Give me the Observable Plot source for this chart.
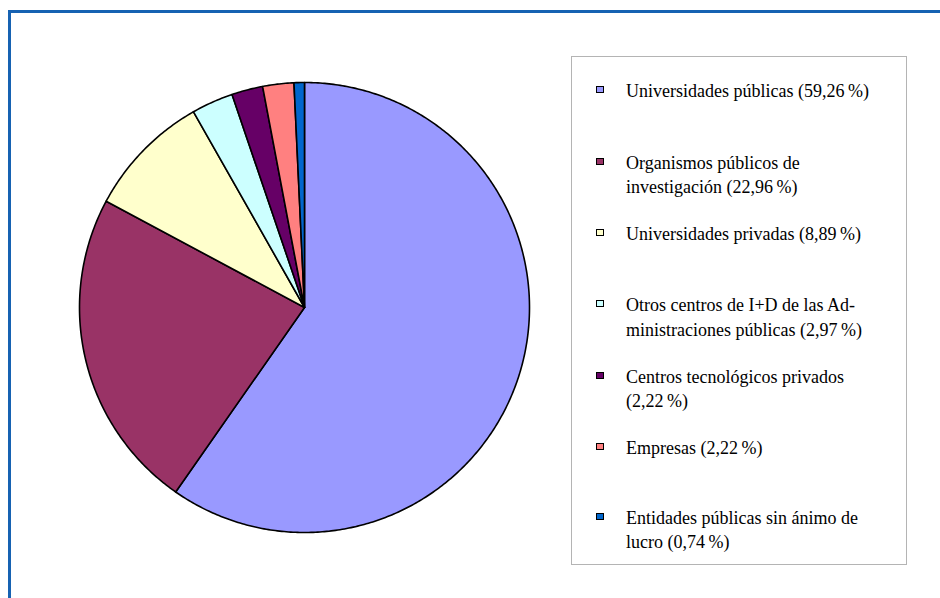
<!DOCTYPE html>
<html><head><meta charset="utf-8">
<script src="https://cdn.jsdelivr.net/npm/d3@7"></script>
<script src="https://cdn.jsdelivr.net/npm/@observablehq/plot@0.6"></script>
<style>
body{margin:0;background:#fff;}
#wrap{position:relative;width:940px;height:598px;overflow:hidden;background:#fff;}
#chart{position:absolute;left:0;top:0;}
#frame{position:absolute;left:8px;top:10px;width:1000px;height:700px;border-top:3px solid #1662b2;border-left:3px solid #1662b2;}
#legend{position:absolute;left:571px;top:56px;width:336px;height:509px;border:1px solid #b4b4b4;box-sizing:border-box;background:#fff;}
.sw{position:absolute;width:6px;height:5px;border:1px solid #000;}
.lt{position:absolute;font-family:'Liberation Serif','DejaVu Serif','Times New Roman',Times,serif;font-size:18px;line-height:16px;white-space:nowrap;color:#000;}
</style></head>
<body>
<div id="wrap">
  <div id="frame"></div>
  <div id="chart"></div>
  <div id="legend"></div>
</div>
<script>
const categories = ["Universidades públicas", "Organismos públicos de investigación", "Universidades privadas", "Otros centros de I+D de las Administraciones públicas", "Centros tecnológicos privados", "Empresas", "Entidades públicas sin ánimo de lucro"];
const values = [59.26, 22.96, 8.89, 2.97, 2.22, 2.22, 0.74];
const colors = ["#9999FF", "#993366", "#FFFFCC", "#CCFFFF", "#660066", "#FF8080", "#0066CC"];
const legendLines = [
  ["Universidades públicas (59,26\u2009%)"],
  ["Organismos públicos de", "investigación (22,96\u2009%)"],
  ["Universidades privadas (8,89\u2009%)"],
  ["Otros centros de I+D de las Ad-", "ministraciones públicas (2,97\u2009%)"],
  ["Centros tecnológicos privados", "(2,22\u2009%)"],
  ["Empresas (2,22\u2009%)"],
  ["Entidades públicas sin ánimo de", "lucro (0,74\u2009%)"]
];
const legendBaselines = [[96], [168, 192], [239], [310, 335], [382, 406], [453], [523, 547]];

// Build slice outlines from the pie layout (geometry only)
const arcs = d3.pie().sort(null).value(d => d)(values);
const pts = [];
arcs.forEach((a, i) => {
  const cat = categories[i];
  pts.push({cat, x: 0, y: 0});
  const n = Math.max(2, Math.ceil((a.endAngle - a.startAngle) / 0.01));
  for (let k = 0; k <= n; k++) {
    const t = a.startAngle + (a.endAngle - a.startAngle) * k / n;
    pts.push({cat, x: Math.sin(t), y: Math.cos(t)});
  }
});

const chart = Plot.plot({
  width: 940, height: 598,
  marginLeft: 79, marginRight: 411, marginTop: 82, marginBottom: 66,
  x: {domain: [-1, 1], axis: null},
  y: {domain: [-1, 1], axis: null},
  color: {domain: categories, range: colors},
  style: {background: "transparent"},
  marks: [
    Plot.line(pts, {x: "x", y: "y", z: "cat", fill: "cat", stroke: "#000", strokeWidth: 1.6, strokeLinejoin: "round", curve: "linear-closed"})
  ]
});
document.getElementById("chart").appendChild(chart);

const legend = document.getElementById("legend");
const L0 = 571, T0 = 56;
legendLines.forEach((lines, i) => {
  const b0 = legendBaselines[i][0];
  const sw = document.createElement("div");
  sw.className = "sw";
  sw.style.left = (595 - L0) + "px";
  sw.style.top = (b0 - 11 - T0) + "px";
  sw.style.background = colors[i];
  legend.appendChild(sw);
  lines.forEach((txt, j) => {
    const d = document.createElement("div");
    d.className = "lt";
    d.textContent = txt;
    d.style.left = (625 - L0) + "px";
    d.style.top = (legendBaselines[i][j] - 14 - T0) + "px";
    legend.appendChild(d);
  });
});
</script>
</body></html>
